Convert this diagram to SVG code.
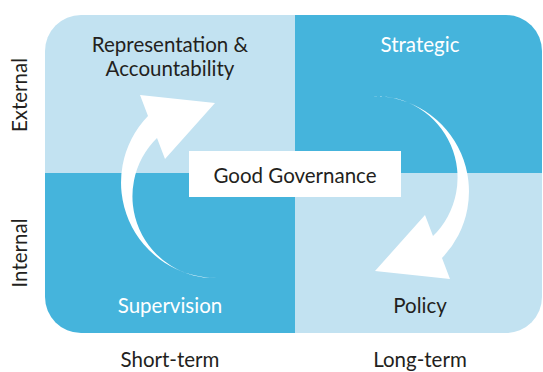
<svg xmlns="http://www.w3.org/2000/svg" width="543" height="372" viewBox="0 0 543 372">
<style>
.t{font-family:Lato,"Noto Sans",sans-serif;font-size:20.5px;fill:#231f20;text-anchor:middle}
.w{fill:#ffffff}
.light{fill:#c2e2f1}
.dark{fill:#45b4dc}
.arrow{fill:#ffffff}
</style>
<defs>
<clipPath id="frame"><rect x="45" y="15" width="497" height="318" rx="36" ry="36"/></clipPath>
</defs>
<g id="quadrants" clip-path="url(#frame)">
<rect id="q-tl" class="light" x="45" y="15" width="250" height="158"/>
<rect id="q-tr" class="dark" x="295" y="15" width="247" height="158"/>
<rect id="q-bl" class="dark" x="45" y="173" width="250" height="160"/>
<rect id="q-br" class="light" x="295" y="173" width="247" height="160"/>
</g>
<g id="connectors">
<path id="arrow-left" class="arrow" d="M218,278 A95.5,95.5 0 0 1 148,116 L140,95 L215,103 L165,159 L157,138 A81.7,81.7 0 0 0 218,278 Z"/>
<path id="arrow-right" class="arrow" transform="rotate(180 295 187)" d="M218,278 A95.5,95.5 0 0 1 148,116 L140,95 L215,103 L165,159 L157,138 A81.7,81.7 0 0 0 218,278 Z"/>
</g>
<g id="node-representation">
<text class="t" x="170" y="51.5">Representation &amp;</text>
<text class="t" x="170" y="75.5">Accountability</text>
</g>
<g id="node-strategic"><text class="t w" x="420" y="52">Strategic</text></g>
<g id="node-supervision"><text class="t w" x="170" y="313">Supervision</text></g>
<g id="node-policy"><text class="t" x="420" y="313">Policy</text></g>
<g id="node-good-governance">
<rect x="189" y="151" width="212" height="46" fill="#ffffff"/>
<text class="t" x="295" y="183">Good Governance</text>
</g>
<g id="axis-labels">
<text class="t" x="170" y="367">Short-term</text>
<text class="t" x="420" y="367">Long-term</text>
<text class="t" transform="translate(27 95) rotate(-90)">External</text>
<text class="t" transform="translate(27 253) rotate(-90)">Internal</text>
</g>
</svg>
